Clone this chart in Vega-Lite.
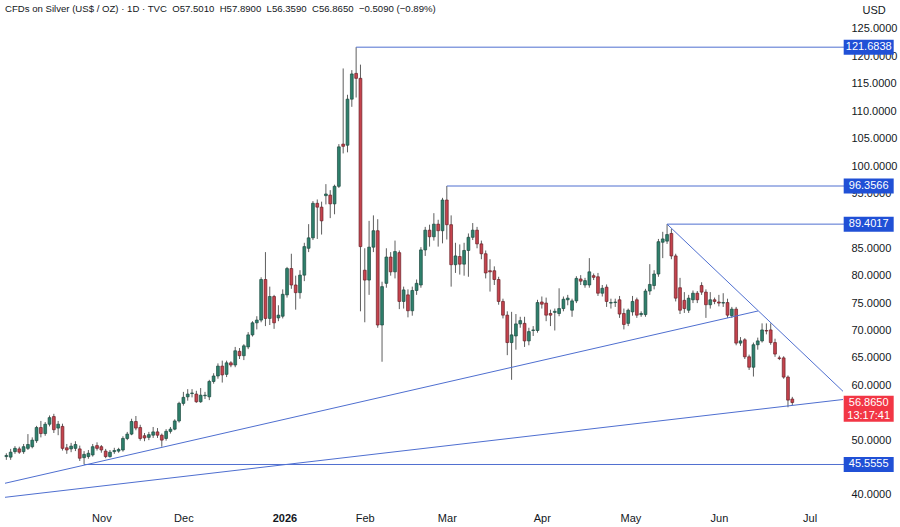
{
"$schema": "https://vega.github.io/schema/vega-lite/v6.json",
"width": 848, "height": 503,
"autosize": {"type": "none"},
"padding": {"left": 0, "top": 0, "right": 52, "bottom": 24},
"background": "#ffffff",
"config": {"view": {"stroke": null}, "font": "Liberation Sans"},
"title": {"text": "CFDs on Silver (US$ / OZ) · 1D · TVC\u00a0\u00a0O57.5010\u00a0\u00a0H57.8900\u00a0\u00a0L56.3590\u00a0\u00a0C56.8650\u00a0\u00a0−0.5090 (−0.89%)", "anchor": "start", "frame": "group", "orient": "top", "offset": -14, "dx": 5, "dy": 5, "baseline": "middle", "fontSize": 9.6, "fontWeight": "normal", "color": "#131722", "font": "Liberation Sans"},
"datasets": {
"candles": [
{"i":-22,"o":47.0,"h":47.6,"l":46.4,"c":47.2},
{"i":-21,"o":46.9,"h":48.4,"l":46.4,"c":47.8},
{"i":-20,"o":47.9,"h":48.9,"l":47.5,"c":48.5},
{"i":-19,"o":48.4,"h":48.8,"l":47.5,"c":47.8},
{"i":-18,"o":47.9,"h":49.3,"l":47.5,"c":48.8},
{"i":-17,"o":48.5,"h":51.1,"l":48.2,"c":49.2},
{"i":-16,"o":48.8,"h":50.5,"l":48.5,"c":50.0},
{"i":-15,"o":49.9,"h":52.6,"l":49.5,"c":52.3},
{"i":-14,"o":52.3,"h":53.5,"l":50.5,"c":51.2},
{"i":-13,"o":51.2,"h":53.3,"l":50.8,"c":52.9},
{"i":-12,"o":52.9,"h":54.5,"l":52.5,"c":54.1},
{"i":-11,"o":54.3,"h":54.8,"l":51.3,"c":51.9},
{"i":-10,"o":52.2,"h":53.5,"l":50.9,"c":52.9},
{"i":-9,"o":52.5,"h":53.0,"l":48.1,"c":48.5},
{"i":-8,"o":48.6,"h":49.3,"l":47.5,"c":48.2},
{"i":-7,"o":48.4,"h":49.5,"l":47.8,"c":48.9},
{"i":-6,"o":48.5,"h":49.8,"l":48.0,"c":49.2},
{"i":-5,"o":48.4,"h":49.0,"l":46.2,"c":46.7},
{"i":-4,"o":46.8,"h":48.0,"l":45.56,"c":47.4},
{"i":-3,"o":47.0,"h":48.2,"l":46.6,"c":47.6},
{"i":-2,"o":47.3,"h":49.3,"l":47.0,"c":48.8},
{"i":-1,"o":49.0,"h":49.6,"l":48.1,"c":48.5},
{"i":0,"o":48.8,"h":49.1,"l":47.7,"c":48.2},
{"i":1,"o":48.0,"h":48.4,"l":46.7,"c":47.0},
{"i":2,"o":47.0,"h":48.2,"l":46.8,"c":47.8},
{"i":3,"o":47.9,"h":48.6,"l":47.5,"c":48.1},
{"i":4,"o":48.0,"h":48.6,"l":47.7,"c":48.3},
{"i":5,"o":48.2,"h":50.7,"l":47.9,"c":50.3},
{"i":6,"o":50.3,"h":51.5,"l":50.0,"c":51.1},
{"i":7,"o":51.1,"h":53.9,"l":50.9,"c":53.4},
{"i":8,"o":53.4,"h":54.4,"l":51.8,"c":52.2},
{"i":9,"o":52.3,"h":52.8,"l":49.9,"c":50.3},
{"i":10,"o":50.8,"h":51.3,"l":49.8,"c":50.4},
{"i":11,"o":50.5,"h":51.5,"l":50.0,"c":51.0},
{"i":12,"o":50.9,"h":52.4,"l":50.4,"c":51.5},
{"i":13,"o":51.5,"h":52.2,"l":50.4,"c":50.9},
{"i":14,"o":50.9,"h":51.2,"l":48.8,"c":50.0},
{"i":15,"o":50.3,"h":52.0,"l":49.9,"c":51.6},
{"i":16,"o":51.6,"h":52.4,"l":51.2,"c":52.0},
{"i":17,"o":52.0,"h":53.8,"l":51.8,"c":53.5},
{"i":18,"o":53.5,"h":57.0,"l":53.2,"c":56.7},
{"i":19,"o":56.7,"h":58.8,"l":56.3,"c":57.8},
{"i":20,"o":57.9,"h":59.3,"l":57.2,"c":58.4},
{"i":21,"o":58.5,"h":59.3,"l":57.8,"c":58.6},
{"i":22,"o":58.4,"h":59.0,"l":56.8,"c":57.0},
{"i":23,"o":57.0,"h":59.5,"l":56.8,"c":58.2},
{"i":24,"o":58.1,"h":58.8,"l":57.5,"c":58.2},
{"i":25,"o":57.9,"h":61.0,"l":57.3,"c":60.7},
{"i":26,"o":60.7,"h":62.2,"l":60.3,"c":61.7},
{"i":27,"o":61.7,"h":64.0,"l":61.2,"c":63.5},
{"i":28,"o":63.5,"h":64.5,"l":60.5,"c":61.9},
{"i":29,"o":62.0,"h":64.5,"l":61.5,"c":64.1},
{"i":30,"o":64.1,"h":64.4,"l":63.3,"c":63.7},
{"i":31,"o":63.7,"h":67.0,"l":63.3,"c":66.3},
{"i":32,"o":66.2,"h":66.8,"l":64.8,"c":65.4},
{"i":33,"o":65.4,"h":67.5,"l":64.6,"c":67.2},
{"i":34,"o":67.0,"h":69.7,"l":66.6,"c":69.2},
{"i":35,"o":69.2,"h":71.7,"l":68.9,"c":71.4},
{"i":36,"o":71.4,"h":72.6,"l":70.2,"c":71.9},
{"i":37,"o":71.9,"h":79.7,"l":71.5,"c":79.3},
{"i":38,"o":79.3,"h":84.3,"l":70.8,"c":72.2},
{"i":39,"o":72.2,"h":78.0,"l":71.0,"c":76.2},
{"i":40,"o":76.2,"h":76.5,"l":70.3,"c":71.4},
{"i":41,"o":72.3,"h":74.6,"l":71.7,"c":72.8},
{"i":42,"o":72.6,"h":77.5,"l":72.2,"c":76.6},
{"i":43,"o":76.5,"h":81.6,"l":76.0,"c":81.3},
{"i":44,"o":81.3,"h":84.0,"l":77.6,"c":78.3},
{"i":45,"o":78.3,"h":80.0,"l":73.8,"c":76.9},
{"i":46,"o":76.9,"h":81.0,"l":75.8,"c":80.1},
{"i":47,"o":80.1,"h":86.0,"l":79.0,"c":85.3},
{"i":48,"o":85.0,"h":89.4,"l":84.3,"c":86.9},
{"i":49,"o":86.9,"h":93.6,"l":86.5,"c":93.2},
{"i":50,"o":93.2,"h":93.9,"l":86.7,"c":92.5},
{"i":51,"o":92.5,"h":93.5,"l":87.5,"c":90.0},
{"i":52,"o":94.6,"h":96.7,"l":93.0,"c":94.9},
{"i":53,"o":94.7,"h":95.6,"l":90.5,"c":93.1},
{"i":54,"o":93.1,"h":96.6,"l":91.2,"c":96.3},
{"i":55,"o":96.3,"h":104.0,"l":96.0,"c":103.5},
{"i":56,"o":104.0,"h":117.8,"l":102.3,"c":103.6},
{"i":57,"o":103.8,"h":113.0,"l":102.5,"c":112.2},
{"i":58,"o":112.2,"h":117.5,"l":110.8,"c":116.8},
{"i":59,"o":116.9,"h":121.6838,"l":112.5,"c":116.0},
{"i":60,"o":116.0,"h":118.5,"l":73.5,"c":85.3},
{"i":61,"o":81.0,"h":85.0,"l":71.5,"c":79.2},
{"i":62,"o":79.2,"h":90.0,"l":76.5,"c":85.2},
{"i":63,"o":85.2,"h":91.0,"l":84.3,"c":88.2},
{"i":64,"o":88.2,"h":90.3,"l":70.5,"c":71.0},
{"i":65,"o":71.0,"h":78.9,"l":64.3,"c":78.0},
{"i":66,"o":78.6,"h":85.0,"l":77.8,"c":83.4},
{"i":67,"o":83.4,"h":84.3,"l":80.0,"c":80.7},
{"i":68,"o":80.7,"h":86.4,"l":79.5,"c":84.4},
{"i":69,"o":84.2,"h":84.6,"l":73.9,"c":75.3},
{"i":70,"o":75.3,"h":78.0,"l":74.0,"c":77.4},
{"i":71,"o":76.5,"h":77.5,"l":72.4,"c":73.6},
{"i":72,"o":73.6,"h":78.0,"l":72.7,"c":77.3},
{"i":73,"o":77.3,"h":79.3,"l":76.5,"c":78.6},
{"i":74,"o":78.3,"h":85.2,"l":77.8,"c":84.7},
{"i":75,"o":84.7,"h":88.9,"l":83.6,"c":88.3},
{"i":76,"o":88.3,"h":89.3,"l":85.3,"c":87.1},
{"i":77,"o":87.1,"h":91.4,"l":86.4,"c":89.4},
{"i":78,"o":89.4,"h":90.2,"l":85.3,"c":88.2},
{"i":79,"o":88.2,"h":94.2,"l":85.9,"c":93.8},
{"i":80,"o":93.8,"h":96.3566,"l":86.6,"c":89.3},
{"i":81,"o":89.3,"h":91.0,"l":78.0,"c":82.0},
{"i":82,"o":82.0,"h":86.0,"l":80.5,"c":83.6},
{"i":83,"o":83.5,"h":85.7,"l":80.2,"c":82.1},
{"i":84,"o":82.1,"h":86.0,"l":80.0,"c":84.6},
{"i":85,"o":84.6,"h":87.7,"l":79.8,"c":87.0},
{"i":86,"o":87.0,"h":89.6,"l":86.5,"c":88.3},
{"i":87,"o":88.3,"h":88.9,"l":85.0,"c":85.8},
{"i":88,"o":85.8,"h":86.4,"l":83.0,"c":84.0},
{"i":89,"o":84.0,"h":84.6,"l":79.5,"c":80.5},
{"i":90,"o":80.9,"h":83.0,"l":77.1,"c":80.7},
{"i":91,"o":80.9,"h":81.7,"l":78.3,"c":79.3},
{"i":92,"o":79.3,"h":79.8,"l":74.7,"c":75.3},
{"i":93,"o":75.3,"h":75.8,"l":72.2,"c":72.8},
{"i":94,"o":72.8,"h":73.5,"l":65.5,"c":67.8},
{"i":95,"o":67.8,"h":73.4,"l":61.0,"c":69.2},
{"i":96,"o":69.0,"h":73.0,"l":66.5,"c":71.2},
{"i":97,"o":71.2,"h":72.5,"l":70.5,"c":71.8},
{"i":98,"o":71.3,"h":72.5,"l":67.0,"c":68.1},
{"i":99,"o":68.1,"h":70.5,"l":67.3,"c":69.8},
{"i":100,"o":70.0,"h":70.8,"l":69.0,"c":70.1},
{"i":101,"o":70.0,"h":75.6,"l":69.6,"c":75.1},
{"i":102,"o":75.2,"h":76.2,"l":74.0,"c":74.8},
{"i":103,"o":75.0,"h":76.0,"l":71.7,"c":72.8},
{"i":104,"o":73.1,"h":73.8,"l":70.8,"c":72.8},
{"i":105,"o":73.3,"h":74.0,"l":70.0,"c":73.5},
{"i":106,"o":73.1,"h":77.7,"l":72.6,"c":74.0},
{"i":107,"o":74.0,"h":76.2,"l":73.5,"c":75.7},
{"i":108,"o":75.6,"h":76.5,"l":74.6,"c":75.9},
{"i":109,"o":73.7,"h":75.8,"l":72.5,"c":75.4},
{"i":110,"o":75.4,"h":79.9,"l":75.0,"c":79.5},
{"i":111,"o":79.4,"h":80.1,"l":78.3,"c":79.0},
{"i":112,"o":78.3,"h":79.6,"l":77.8,"c":79.1},
{"i":113,"o":78.3,"h":83.2,"l":77.8,"c":80.7},
{"i":114,"o":80.0,"h":80.4,"l":79.2,"c":79.7},
{"i":115,"o":79.8,"h":80.5,"l":76.3,"c":76.8},
{"i":116,"o":76.8,"h":78.3,"l":76.2,"c":77.7},
{"i":117,"o":77.9,"h":78.4,"l":74.3,"c":75.3},
{"i":118,"o":75.0,"h":75.8,"l":74.0,"c":75.1},
{"i":119,"o":75.1,"h":75.8,"l":74.3,"c":75.2},
{"i":120,"o":75.6,"h":76.3,"l":72.3,"c":73.0},
{"i":121,"o":73.1,"h":74.0,"l":70.2,"c":71.1},
{"i":122,"o":71.3,"h":74.0,"l":70.8,"c":73.7},
{"i":123,"o":73.4,"h":76.3,"l":72.7,"c":75.3},
{"i":124,"o":75.6,"h":76.0,"l":72.3,"c":72.8},
{"i":125,"o":72.9,"h":73.5,"l":72.5,"c":73.1},
{"i":126,"o":72.9,"h":77.6,"l":72.5,"c":77.2},
{"i":127,"o":77.2,"h":82.1,"l":76.5,"c":78.4},
{"i":128,"o":78.2,"h":81.0,"l":77.5,"c":80.3},
{"i":129,"o":80.3,"h":86.7,"l":79.8,"c":86.2},
{"i":130,"o":86.1,"h":88.0,"l":83.2,"c":86.7},
{"i":131,"o":86.3,"h":89.4017,"l":85.8,"c":87.5},
{"i":132,"o":87.7,"h":88.5,"l":83.0,"c":83.6},
{"i":133,"o":83.6,"h":84.0,"l":75.3,"c":75.9},
{"i":134,"o":77.8,"h":79.6,"l":73.0,"c":73.7},
{"i":135,"o":75.5,"h":77.0,"l":73.2,"c":74.0},
{"i":136,"o":73.7,"h":76.5,"l":73.2,"c":75.9},
{"i":137,"o":75.6,"h":77.3,"l":75.0,"c":76.8},
{"i":138,"o":76.8,"h":77.2,"l":75.0,"c":75.6},
{"i":139,"o":78.2,"h":78.8,"l":76.5,"c":77.0},
{"i":140,"o":77.0,"h":77.5,"l":72.3,"c":74.7},
{"i":141,"o":74.7,"h":77.0,"l":74.0,"c":75.6},
{"i":142,"o":75.6,"h":76.0,"l":74.8,"c":75.3},
{"i":143,"o":75.2,"h":76.5,"l":74.4,"c":75.0},
{"i":144,"o":75.0,"h":76.8,"l":74.3,"c":75.1},
{"i":145,"o":75.1,"h":75.8,"l":72.3,"c":72.8},
{"i":146,"o":72.7,"h":74.3,"l":72.3,"c":73.9},
{"i":147,"o":73.9,"h":74.3,"l":67.3,"c":67.7},
{"i":148,"o":67.7,"h":68.8,"l":67.2,"c":68.1},
{"i":149,"o":68.3,"h":68.6,"l":64.8,"c":65.2},
{"i":150,"o":65.2,"h":65.6,"l":62.8,"c":63.3},
{"i":151,"o":63.3,"h":67.8,"l":61.6,"c":67.4},
{"i":152,"o":67.4,"h":68.7,"l":66.5,"c":68.1},
{"i":153,"o":68.1,"h":71.3,"l":67.8,"c":70.1},
{"i":154,"o":70.0,"h":71.3,"l":69.3,"c":69.9},
{"i":155,"o":70.1,"h":71.3,"l":67.4,"c":67.8},
{"i":156,"o":67.8,"h":68.5,"l":65.2,"c":65.7},
{"i":157,"o":65.0,"h":65.4,"l":64.6,"c":64.9},
{"i":158,"o":65.0,"h":65.3,"l":61.2,"c":61.5},
{"i":159,"o":61.5,"h":61.8,"l":56.0,"c":57.3},
{"i":160,"o":57.501,"h":57.89,"l":56.359,"c":56.865}
],
"lines": [
{"x1":59,"y1":121.6838,"x2":172,"y2":121.6838},
{"x1":80,"y1":96.3566,"x2":172,"y2":96.3566},
{"x1":131,"y1":89.4017,"x2":172,"y2":89.4017},
{"x1":-4,"y1":45.5555,"x2":172,"y2":45.5555},
{"x1":-22.31,"y1":42.13,"x2":152.06,"y2":73.56},
{"x1":-22.31,"y1":39.57,"x2":171.74,"y2":57.41},
{"x1":131,"y1":89.4017,"x2":171.74,"y2":58.9}
],
"tags": [
{"p":121.6838,"t":"121.6838"},
{"p":96.3566,"t":"96.3566"},
{"p":89.4017,"t":"89.4017"},
{"p":45.5555,"t":"45.5555"}
],
"last": [
{"p":56.865,"t":"56.8650\n13:17:41"}
]
},
"encoding": {
"x": {"type": "quantitative", "scale": {"domain": [-22.31, 171.74], "nice": false, "zero": false},
 "axis": {"values": [0, 19, 42.4, 61, 80, 102, 122.5, 143, 164], "labelExpr": "datum.value == 0 ? 'Nov' : datum.value == 19 ? 'Dec' : datum.value < 43 ? '2026' : datum.value == 61 ? 'Feb' : datum.value == 80 ? 'Mar' : datum.value == 102 ? 'Apr' : datum.value < 123 ? 'May' : datum.value == 143 ? 'Jun' : 'Jul'", "ticks": false, "domain": false, "grid": false, "labelPadding": 9, "labelFontSize": 11, "labelColor": "#131722", "labelFont": "Liberation Sans", "labelFlush": false, "labelOverlap": false, "title": null,
 "labelFontWeight": {"condition": {"test": "datum.value > 42 && datum.value < 43", "value": "bold"}, "value": "normal"}}},
"y": {"type": "quantitative", "scale": {"domain": [38.53, 130.29], "nice": false, "zero": false},
 "axis": {"orient": "right", "values": [40,50,60,65,70,75,80,85,95,100,105,110,115,120,125], "format": ".4f", "ticks": false, "domain": false, "grid": false, "labelPadding": 3, "labelFontSize": 11, "labelColor": "#131722", "labelFont": "Liberation Sans", "labelFlush": false, "labelOverlap": false,
 "title": "USD", "titleAngle": 0, "titleX": 14, "titleY": 10, "titleAlign": "left", "titleBaseline": "middle", "titleFontSize": 11, "titleFontWeight": "normal", "titleColor": "#131722", "titleFont": "Liberation Sans"}}
},
"layer": [
{
"data": {"name": "candles"},
"mark": {"type": "rule", "strokeWidth": 1, "color": "#5e5e5e"},
"encoding": {"x": {"field": "i"}, "y": {"field": "l"}, "y2": {"field": "h"}}
},
{
"data": {"name": "candles"},
"mark": {"type": "bar", "size": 2.8, "strokeWidth": 0.7},
"encoding": {
"x": {"field": "i"},
"y": {"field": "o"},
"y2": {"field": "c"},
"color": {"condition": {"test": "datum.c >= datum.o", "value": "#2e806c"}, "value": "#c5434d"},
"stroke": {"condition": {"test": "datum.c >= datum.o", "value": "#1d4a40"}, "value": "#6a2128"}
}
},
{
"data": {"name": "lines"},
"mark": {"type": "rule", "strokeWidth": 1, "color": "#4f6fd0", "clip": true},
"encoding": {"x": {"field": "x1"}, "x2": {"field": "x2"}, "y": {"field": "y1"}, "y2": {"field": "y2"}}
},
{
"data": {"name": "tags"},
"mark": {"type": "point", "shape": "M-1,-0.3H1V0.3H-1Z", "size": 2500, "filled": true, "opacity": 1, "color": "#2050d6", "strokeWidth": 0, "clip": false},
"encoding": {"x": {"datum": 177.69}, "y": {"field": "p"}}
},
{
"data": {"name": "tags"},
"mark": {"type": "text", "color": "#ffffff", "fontSize": 11, "align": "center", "baseline": "middle", "font": "Liberation Sans", "clip": false},
"encoding": {"x": {"datum": 177.69}, "y": {"field": "p"}, "text": {"field": "t"}}
},
{
"data": {"name": "last"},
"mark": {"type": "point", "shape": "M-1,-0.27H1V0.77H-1Z", "size": 2500, "filled": true, "opacity": 1, "color": "#f23645", "strokeWidth": 0, "clip": false},
"encoding": {"x": {"datum": 177.69}, "y": {"field": "p"}}
},
{
"data": {"name": "last"},
"mark": {"type": "text", "color": "#ffffff", "fontSize": 11, "align": "center", "baseline": "top", "dy": -5.5, "lineHeight": 13, "lineBreak": "\n", "font": "Liberation Sans", "clip": false},
"encoding": {"x": {"datum": 177.69}, "y": {"field": "p"}, "text": {"field": "t"}}
}
]
}
